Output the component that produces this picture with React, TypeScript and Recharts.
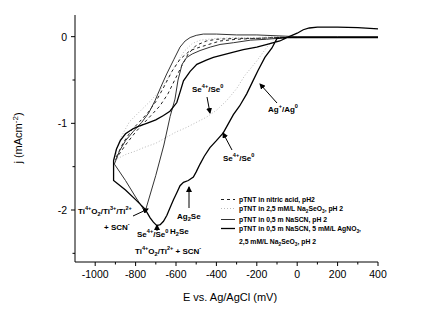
import React from 'react';
import { LineChart, Line, XAxis, YAxis } from 'recharts';

// cyclic voltammograms, [E (mV), j (mA cm-2)] in sweep order
const nitricAcid: [number, number][] = [
  [0, -0.01], [-100, -0.01], [-200, -0.02], [-300, -0.02], [-400, -0.03], [-450, -0.05],
  [-500, -0.1], [-540, -0.2], [-570, -0.33], [-600, -0.47], [-640, -0.66], [-680, -0.8],
  [-720, -0.9], [-760, -1.0], [-800, -1.1], [-850, -1.25], [-900, -1.42], [-890, -1.36],
  [-860, -1.22], [-820, -1.08], [-780, -0.98], [-740, -0.88], [-700, -0.75], [-660, -0.58],
  [-620, -0.4], [-580, -0.26], [-530, -0.16], [-481, -0.12], [-382, -0.05], [-300, -0.03],
  [-200, -0.02], [-100, -0.01], [0, 0],
];

const selenite: [number, number][] = [
  [0, -0.01], [-80, -0.01], [-110, -0.02], [-150, -0.12], [-200, -0.28], [-260, -0.45],
  [-300, -0.6], [-350, -0.74], [-400, -0.85], [-450, -0.93], [-500, -0.99], [-550, -1.05],
  [-600, -1.1], [-646, -1.16], [-700, -1.23], [-760, -1.28], [-800, -1.32], [-850, -1.36],
  [-900, -1.42], [-895, -1.3], [-870, -1.15], [-830, -0.98], [-778, -0.86], [-730, -0.75],
  [-679, -0.62], [-640, -0.48], [-600, -0.32], [-560, -0.17], [-520, -0.08], [-480, -0.04],
  [-400, -0.02], [-300, -0.01], [-200, -0.01], [-100, 0], [0, 0],
];

const thiocyanate: [number, number][] = [
  [400, 0], [200, 0], [0, 0], [-100, 0.01], [-200, 0.02], [-300, 0.02], [-400, 0.03],
  [-465, 0.03], [-500, 0.015], [-530, -0.01], [-555, -0.05], [-580, -0.12], [-610, -0.26],
  [-646, -0.43], [-675, -0.58], [-704, -0.74], [-735, -0.88], [-770, -0.99], [-810, -1.09],
  [-850, -1.2], [-880, -1.32], [-905, -1.47], [-850, -1.66], [-800, -1.85], [-753, -2.02],
  [-700, -1.6], [-660, -1.25], [-629, -0.92], [-605, -0.72], [-590, -0.5], [-570, -0.32],
  [-547, -0.24], [-520, -0.2], [-481, -0.16], [-430, -0.12], [-382, -0.09],
  [-316, -0.07], [-230, -0.04], [-152, -0.03], [-53, -0.01], [0, 0], [200, 0], [400, 0],
];

const silverSelenite: [number, number][] = [
  [400, -0.01], [300, -0.01], [200, -0.01], [100, -0.01], [0, -0.01], [-60, -0.01],
  [-100, -0.02], [-125, -0.13], [-160, -0.24], [-194, -0.39], [-219, -0.51], [-250, -0.66],
  [-285, -0.8], [-316, -0.9], [-340, -1.0], [-366, -1.11], [-400, -1.2], [-432, -1.28],
  [-460, -1.38], [-481, -1.47], [-500, -1.56], [-514, -1.62], [-539, -1.66], [-563, -1.68],
  [-580, -1.72], [-596, -1.8], [-612, -1.88], [-629, -1.97], [-645, -2.06], [-662, -2.13],
  [-678, -2.17], [-695, -2.18], [-712, -2.14], [-728, -2.09], [-753, -1.99], [-800, -1.88],
  [-850, -1.77], [-909, -1.66], [-909, -1.43], [-895, -1.3],
  [-876, -1.2], [-850, -1.12], [-811, -1.06], [-780, -1.03], [-745, -1.0], [-700, -0.96],
  [-662, -0.91], [-630, -0.86], [-596, -0.76], [-580, -0.64], [-563, -0.51], [-530, -0.4],
  [-497, -0.32], [-450, -0.27], [-415, -0.24], [-382, -0.22], [-320, -0.18], [-267, -0.15],
  [-200, -0.12], [-135, -0.08], [-86, -0.05], [-40, 0], [0, 0.04], [30, 0.08], [60, 0.1],
  [100, 0.11], [200, 0.11], [300, 0.105], [400, 0.09],
];

const xTicks = [-1000, -900, -800, -700, -600, -500, -400, -300, -200, -100, 0, 100, 200, 300, 400];
const xLabelTicks = [-1000, -800, -600, -400, -200, 0, 200, 400];
const yTicks = [-2.5, -2, -1.5, -1, -0.5, 0];
const yLabelTicks = [-2, -1, 0];

const toRows = (pts: [number, number][]) => pts.map(([e, j]) => ({ e, j }));

const FONT = '"Liberation Sans", Arial, sans-serif';

const XTick = (props: any) => {
  const { x, y, payload } = props;
  const major = xLabelTicks.includes(payload.value);
  return (
    <g>
      <line x1={x} x2={x} y1={y} y2={y + (major ? 4 : 2.5)} stroke="#000" />
      {major && (
        <text x={x} y={y + 16} textAnchor="middle" fontSize={10.5} fontFamily={FONT} fill="#000">
          {payload.value}
        </text>
      )}
    </g>
  );
};

const YTick = (props: any) => {
  const { x, y, payload } = props;
  const major = yLabelTicks.includes(payload.value);
  return (
    <g>
      <line x1={x} x2={x - (major ? 4 : 2.5)} y1={y} y2={y} stroke="#000" />
      {major && (
        <text x={x - 8} y={y + 4} textAnchor="end" fontSize={10.5} fontFamily={FONT} fill="#000">
          {payload.value}
        </text>
      )}
    </g>
  );
};

// text with super/subscripts: '^' marks a superscript part, '_' a subscript part
type Seg = [string, string?];
const Rich = ({ x, y, segs, size = 8 }: { x: number; y: number; segs: Seg[]; size?: number }) => {
  let shift = 0;
  return (
    <text x={x} y={y} fontSize={size} fontFamily={FONT} fontWeight="bold" fill="#000">
      {segs.map(([t, k], i) => {
        const target = k === '^' ? -size * 0.45 : k === '_' ? size * 0.3 : 0;
        const dy = target - shift;
        shift = target;
        return (
          <tspan key={i} dy={dy} fontSize={k ? size * 0.7 : size}>
            {t}
          </tspan>
        );
      })}
    </text>
  );
};

const Arrow = ({ x1, y1, x2, y2 }: { x1: number; y1: number; x2: number; y2: number }) => (
  <line x1={x1} y1={y1} x2={x2} y2={y2} stroke="#000" strokeWidth={1} markerEnd="url(#ah)" />
);

const legendRows = [
  { label: [['pTNT in nitric acid, pH2']] as Seg[], dash: '3 3', color: '#222', w: 1, y: 202 },
  { label: [['pTNT in 2,5 mM/L Na'], ['2', '_'], ['SeO'], ['3', '_'], [', pH 2']] as Seg[], dash: '1 2', color: '#bbb', w: 1, y: 211 },
  { label: [['pTNT in 0,5 m NaSCN, pH 2']] as Seg[], dash: undefined, color: '#333', w: 1, y: 222 },
  { label: [['pTNT in 0,5 m NaSCN, 5 mM/L AgNO'], ['3', '_'], [',']] as Seg[], dash: undefined, color: '#000', w: 1.3, y: 231 },
];

export default function App() {
  return (
    <div style={{ position: 'absolute', left: 0, top: 0, width: 440, height: 321, background: '#fff' }}>
      <LineChart width={440} height={321} margin={{ top: 15, right: 62, left: 30, bottom: 29 }}>
        <XAxis
          dataKey="e"
          type="number"
          domain={[-1100, 400]}
          ticks={xTicks}
          interval={0}
          tickSize={0}
          tickMargin={0}
          tickLine={false}
          tick={<XTick />}
          height={30}
          stroke="#000"
          allowDuplicatedCategory={false}
        />
        <XAxis xAxisId="top" orientation="top" type="number" domain={[-1100, 400]} tick={false} height={0} stroke="#000" />
        <YAxis
          type="number"
          domain={[-2.6, 0.25]}
          ticks={yTicks}
          interval={0}
          tickSize={0}
          tickMargin={0}
          tickLine={false}
          tick={<YTick />}
          width={45}
          stroke="#000"
        />
        <YAxis yAxisId="r" orientation="right" type="number" domain={[-2.6, 0.25]} tick={false} width={0} stroke="#000" />
        <Line data={toRows(selenite)} dataKey="j" type="linear" stroke="#bbb" strokeWidth={1} strokeDasharray="1 2" dot={false} isAnimationActive={false} />
        <Line data={toRows(nitricAcid)} dataKey="j" type="linear" stroke="#222" strokeWidth={1} strokeDasharray="3 3" dot={false} isAnimationActive={false} />
        <Line data={toRows(thiocyanate)} dataKey="j" type="linear" stroke="#333" strokeWidth={1} dot={false} isAnimationActive={false} />
        <Line data={toRows(silverSelenite)} dataKey="j" type="linear" stroke="#000" strokeWidth={1.3} dot={false} isAnimationActive={false} />
      </LineChart>
      <svg width={440} height={321} style={{ position: 'absolute', left: 0, top: 0, pointerEvents: 'none' }}>
        <defs>
          <marker id="ah" markerWidth="6" markerHeight="6" refX="5" refY="3" orient="auto" markerUnits="userSpaceOnUse">
            <path d="M0,0 L6,3 L0,6 z" fill="#000" />
          </marker>
        </defs>
        <text transform="rotate(-90 22 138)" x={22} y={138} textAnchor="middle" fontSize={11} fontFamily={FONT} fill="#000">
          j (mAcm<tspan dy={-4} fontSize={8}>-2</tspan><tspan dy={4}>)</tspan>
        </text>
        <text x={230} y={301} textAnchor="middle" fontSize={11} fontFamily={FONT} fill="#000">
          E vs. Ag/AgCl (mV)
        </text>

        <Rich x={192} y={92} segs={[['Se'], ['4+', '^'], ['/Se'], ['0', '^']]} />
        <Arrow x1={207} y1={97} x2={210} y2={113} />
        <Rich x={268} y={112} segs={[['Ag'], ['+', '^'], ['/Ag'], ['0', '^']]} />
        <Arrow x1={277} y1={103} x2={260} y2={84} />
        <Rich x={223} y={161} segs={[['Se'], ['4+', '^'], ['/Se'], ['0', '^']]} />
        <Arrow x1={232} y1={150} x2={223} y2={133} />
        <Rich x={177} y={219} segs={[['Ag'], ['2', '_'], ['Se']]} />
        <Arrow x1={189} y1={208} x2={189} y2={187} />
        <Rich x={78} y={214} segs={[['Ti'], ['4+', '^'], ['O'], ['2', '_'], ['/Ti'], ['3+', '^'], ['/Ti'], ['2+', '^']]} />
        <Rich x={104} y={230} segs={[['+ SCN'], ['-', '^']]} />
        <Arrow x1={133} y1={216} x2={148} y2={209} />
        <Rich x={137} y={237} segs={[['Se'], ['4+', '^'], ['/Se'], ['0', '^']]} />
        <Rich x={170} y={234} segs={[['H'], ['2', '_'], ['Se']]} />
        <Arrow x1={157} y1={231} x2={157} y2={225} />
        <Rich x={135} y={254} segs={[['Ti'], ['4+', '^'], ['O'], ['2', '_'], ['/Ti'], ['2+', '^'], [' + SCN'], ['-', '^']]} />

        {legendRows.map((r, i) => (
          <g key={i}>
            <line x1={221} x2={235} y1={r.y - 2.5} y2={r.y - 2.5} stroke={r.color} strokeWidth={r.w} strokeDasharray={r.dash} />
            <Rich x={239} y={r.y} segs={r.label} size={6.8} />
          </g>
        ))}
        <Rich x={239} y={244} segs={[['2,5 mM/L Na'], ['2', '_'], ['SeO'], ['3', '_'], [', pH 2']]} size={6.8} />
      </svg>
    </div>
  );
}
